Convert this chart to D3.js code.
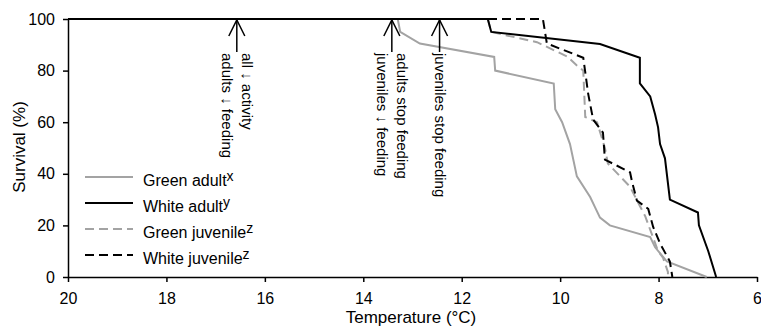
<!DOCTYPE html>
<html>
<head>
<meta charset="utf-8">
<script src="https://d3js.org/d3.v7.min.js"></script>
<style>
  body { margin: 0; background: #fff; }
  text { font-family: Arial, "Liberation Sans", sans-serif; fill: #000; }
</style>
</head>
<body>
<script>

// survival curves, [temperature, survival %]
var greenAdult = [[20,100],[13.3,100],[13.25,95],[12.85,90.5],[11.34,85.3],[11.32,80],[10.13,75],[10.1,65],[9.96,60],[9.8,51.5],[9.66,39],[9.39,31],[9.29,27],[9.19,23],[8.99,20],[8.17,15.5],[8.07,11.5],[7.83,6],[7.02,0]];
var whiteAdult = [[20,100],[11.47,100],[11.4,95],[9.19,90.3],[8.38,85],[8.38,75],[8.17,70],[8.07,63],[8.01,58],[7.97,51.5],[7.87,46],[7.77,30],[7.2,25],[7.18,20],[6.99,10],[6.83,0]];
var greenJuvenile = [[20,100],[11.47,100],[11.4,95],[10.47,91],[9.86,85.5],[9.66,82],[9.53,80],[9.49,62],[9.25,60],[9.09,50],[9.03,44],[8.78,39],[8.58,35],[8.38,27.5],[8.27,23.5],[8.01,10],[7.91,7.5],[7.81,2],[7.81,0]];
var whiteJuvenile = [[20,100],[10.35,100],[10.27,90.5],[9.53,85],[9.43,71],[9.33,61],[9.13,56],[9.09,45.5],[8.58,40.6],[8.54,37],[8.44,29.6],[8.21,26.4],[8.11,19.4],[7.97,13],[7.77,6],[7.72,0]];

var categories = ["Green adult", "White adult", "Green juvenile", "White juvenile"];
var superscripts = ["x", "y", "z", "z"];
var xTicks = [20, 18, 16, 14, 12, 10, 8, 6];
var yTicks = [0, 20, 40, 60, 80, 100];

// behaviour notes, arrows at these temperatures
var noteTemps = [16.57, 13.42, 12.45];
var noteLines = [
  ["all \u2193 activity", "adults \u2193 feeding"],
  ["adults stop feeding", "juveniles \u2193 feeding"],
  ["juveniles stop feeding"]
];

var grey = "#a3a3a3";
var styles = [
  {color: grey, dash: null},
  {color: "#000", dash: null},
  {color: grey, dash: "9,5"},
  {color: "#000", dash: "9,5"}
];

var svg = d3.select("body").append("svg")
  .attr("width", 761)
  .attr("height", 329);

var x = d3.scaleLinear().domain([20, 6]).range([68, 757]);
var y = d3.scaleLinear().domain([0, 100]).range([277, 19]);

// axes
var xAxis = svg.append("g")
  .attr("transform", "translate(0," + y(0) + ")")
  .call(d3.axisBottom(x).tickValues(xTicks).tickSize(5).tickSizeOuter(0).tickPadding(11));

var yAxis = svg.append("g")
  .attr("transform", "translate(" + x(20) + ",0)")
  .call(d3.axisLeft(y).tickValues(yTicks).tickSize(5).tickSizeOuter(0).tickPadding(8));

[xAxis, yAxis].forEach(function (g) {
  g.selectAll("path, line").attr("stroke", "#000").attr("stroke-width", 1.5);
  g.selectAll("text").attr("font-size", 16).attr("font-family", "Arial, 'Liberation Sans', sans-serif");
});

svg.append("text")
  .attr("x", 411)
  .attr("y", 323)
  .attr("text-anchor", "middle")
  .attr("font-size", 17)
  .text("Temperature (\u00B0C)");

svg.append("text")
  .attr("transform", "translate(25,147) rotate(-90)")
  .attr("text-anchor", "middle")
  .attr("font-size", 17)
  .text("Survival (%)");

// curves, greys underneath
var line = d3.line()
  .x(function (d) { return x(d[0]); })
  .y(function (d) { return y(d[1]); });

var series = [greenAdult, whiteAdult, greenJuvenile, whiteJuvenile];
var drawOrder = [0, 2, 3, 1];

drawOrder.forEach(function (i) {
  svg.append("path")
    .datum(series[i])
    .attr("fill", "none")
    .attr("stroke", styles[i].color)
    .attr("stroke-width", 2)
    .attr("stroke-dasharray", styles[i].dash)
    .attr("d", line);
});

// arrows + rotated notes
var textTop = 53;
noteTemps.forEach(function (t, i) {
  var cx = x(t);
  var top = y(100);
  svg.append("line")
    .attr("x1", cx).attr("x2", cx)
    .attr("y1", top).attr("y2", textTop - 1)
    .attr("stroke", "#000").attr("stroke-width", 1.5);
  svg.append("polyline")
    .attr("points", [[cx - 8, top + 17], [cx, top + 1], [cx + 8, top + 17]].join(" "))
    .attr("fill", "none")
    .attr("stroke", "#000").attr("stroke-width", 1.5);

  var n = noteLines[i].length;
  noteLines[i].forEach(function (s, j) {
    var bx = cx - 5 + 10 * (n - 1) - 20 * j;
    svg.append("text")
      .attr("transform", "translate(" + bx + "," + textTop + ") rotate(90)")
      .attr("font-size", 15)
      .text(s);
  });
});

// legend
var legendY = [177, 203, 229, 255];
categories.forEach(function (c, i) {
  svg.append("line")
    .attr("x1", 85).attr("x2", 133)
    .attr("y1", legendY[i]).attr("y2", legendY[i])
    .attr("stroke", styles[i].color)
    .attr("stroke-width", 2)
    .attr("stroke-dasharray", styles[i].dash);
  var t = svg.append("text")
    .attr("x", 143)
    .attr("y", legendY[i] + 9)
    .attr("font-size", 16)
    .text(c);
  t.append("tspan")
    .attr("dy", -5)
    .attr("font-size", 14)
    .text(superscripts[i]);
});

</script>
</body>
</html>
